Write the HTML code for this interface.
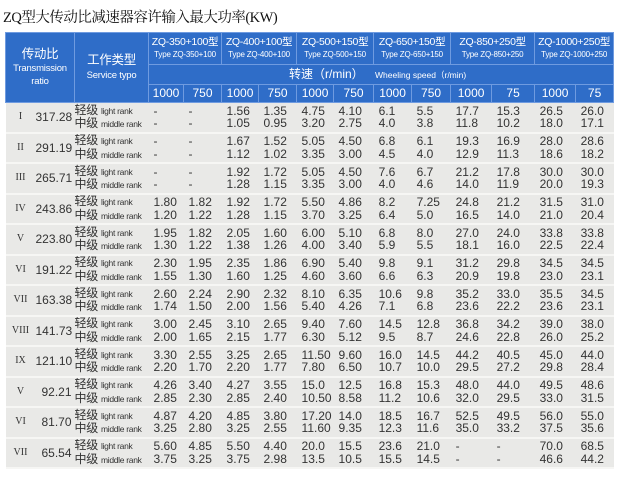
<!DOCTYPE html>
<html><head><meta charset="utf-8"><style>
body{margin:0;width:618px;height:477px;background:#fff;overflow:hidden;font-family:"Liberation Sans","Noto Sans CJK SC",sans-serif;}
.title{position:absolute;left:3px;top:6px;font-family:"Liberation Serif","Noto Serif CJK SC",serif;font-size:14.5px;color:#111;letter-spacing:-0.5px;white-space:nowrap}
table{position:absolute;left:5px;top:32px;border-collapse:collapse;table-layout:fixed;width:608px}
th{background:#2f6dc8;color:#fff;font-weight:normal;border:1px solid #6f9be0;padding:0;text-align:center;line-height:1.05;white-space:nowrap;overflow:hidden}
td{background:#e9e9e7;color:#333;padding:0;font-size:12px;line-height:12.5px;border-bottom:2px solid #f6f6f4;vertical-align:middle;white-space:nowrap;overflow:hidden}
.h1 th{height:31px;font-size:10.5px;letter-spacing:-0.3px}
.h1 th small{font-size:8px;letter-spacing:-0.2px}
.sp th{height:19px}
.nm th{height:17px;font-size:12px}
.r td{height:28.5px}
.rn{text-align:center;font-size:10px;font-family:"Liberation Serif",serif}
.rt{text-align:right;padding-right:3px;font-size:12px}
.sv{font-size:12px;letter-spacing:-0.3px}
.sv span{font-size:8.5px}
.n{padding-left:5px}
</style></head><body>
<div class="title">ZQ型大传动比减速器容许输入最大功率(KW)</div>
<table>
<colgroup><col style="width:30px"><col style="width:39px"><col style="width:74px">
<col style="width:35px"><col style="width:38px"><col style="width:37px"><col style="width:38px">
<col style="width:37px"><col style="width:40px"><col style="width:38px"><col style="width:39px">
<col style="width:41px"><col style="width:43px"><col style="width:41px"><col style="width:38px"></colgroup>
<tr class="h1"><th colspan="2" rowspan="3" style="font-size:12.5px;white-space:normal">传动比<br><small style="font-size:9.5px">Transmission<br>ratio</small></th>
<th rowspan="3" style="font-size:12.5px">工作类型<br><small style="font-size:9.5px">Service typo</small></th>
<th colspan="2">ZQ-350+100型<br><small>Type ZQ-350+100</small></th>
<th colspan="2">ZQ-400+100型<br><small>Type ZQ-400+100</small></th>
<th colspan="2">ZQ-500+150型<br><small>Type ZQ-500+150</small></th>
<th colspan="2">ZQ-650+150型<br><small>Type ZQ-650+150</small></th>
<th colspan="2">ZQ-850+250型<br><small>Type ZQ-850+250</small></th>
<th colspan="2">ZQ-1000+250型<br><small>Type ZQ-1000+250</small></th></tr>
<tr class="sp"><th colspan="12" style="font-size:12px;text-align:left;padding-left:140px">转速（r/min） <span style="font-size:8.5px;margin-left:8px">Wheeling speed（r/min)</span></th></tr>
<tr class="nm"><th>1000</th><th>750</th><th>1000</th><th>750</th><th>1000</th><th>750</th><th>1000</th><th>750</th><th>1000</th><th>75</th><th>1000</th><th>75</th></tr>
<tr class="r"><td class="rn">I</td><td class="rt">317.28</td><td class="sv">轻级 <span>light rank</span><br>中级 <span>middle rank</span></td><td class="n">-<br>-</td><td class="n">-<br>-</td><td class="n">1.56<br>1.05</td><td class="n">1.35<br>0.95</td><td class="n">4.75<br>3.20</td><td class="n">4.10<br>2.75</td><td class="n">6.1<br>4.0</td><td class="n">5.5<br>3.8</td><td class="n">17.7<br>11.8</td><td class="n">15.3<br>10.2</td><td class="n">26.5<br>18.0</td><td class="n">26.0<br>17.1</td></tr>
<tr class="r"><td class="rn">II</td><td class="rt">291.19</td><td class="sv">轻级 <span>light rank</span><br>中级 <span>middle rank</span></td><td class="n">-<br>-</td><td class="n">-<br>-</td><td class="n">1.67<br>1.12</td><td class="n">1.52<br>1.02</td><td class="n">5.05<br>3.35</td><td class="n">4.50<br>3.00</td><td class="n">6.8<br>4.5</td><td class="n">6.1<br>4.0</td><td class="n">19.3<br>12.9</td><td class="n">16.9<br>11.3</td><td class="n">28.0<br>18.6</td><td class="n">28.6<br>18.2</td></tr>
<tr class="r"><td class="rn">III</td><td class="rt">265.71</td><td class="sv">轻级 <span>light rank</span><br>中级 <span>middle rank</span></td><td class="n">-<br>-</td><td class="n">-<br>-</td><td class="n">1.92<br>1.28</td><td class="n">1.72<br>1.15</td><td class="n">5.05<br>3.35</td><td class="n">4.50<br>3.00</td><td class="n">7.6<br>4.0</td><td class="n">6.7<br>4.6</td><td class="n">21.2<br>14.0</td><td class="n">17.8<br>11.9</td><td class="n">30.0<br>20.0</td><td class="n">30.0<br>19.3</td></tr>
<tr class="r"><td class="rn">IV</td><td class="rt">243.86</td><td class="sv">轻级 <span>light rank</span><br>中级 <span>middle rank</span></td><td class="n">1.80<br>1.20</td><td class="n">1.82<br>1.22</td><td class="n">1.92<br>1.28</td><td class="n">1.72<br>1.15</td><td class="n">5.50<br>3.70</td><td class="n">4.86<br>3.25</td><td class="n">8.2<br>6.4</td><td class="n">7.25<br>5.0</td><td class="n">24.8<br>16.5</td><td class="n">21.2<br>14.0</td><td class="n">31.5<br>21.0</td><td class="n">31.0<br>20.4</td></tr>
<tr class="r"><td class="rn">V</td><td class="rt">223.80</td><td class="sv">轻级 <span>light rank</span><br>中级 <span>middle rank</span></td><td class="n">1.95<br>1.30</td><td class="n">1.82<br>1.22</td><td class="n">2.05<br>1.38</td><td class="n">1.60<br>1.26</td><td class="n">6.00<br>4.00</td><td class="n">5.10<br>3.40</td><td class="n">6.8<br>5.9</td><td class="n">8.0<br>5.5</td><td class="n">27.0<br>18.1</td><td class="n">24.0<br>16.0</td><td class="n">33.8<br>22.5</td><td class="n">33.8<br>22.4</td></tr>
<tr class="r"><td class="rn">VI</td><td class="rt">191.22</td><td class="sv">轻级 <span>light rank</span><br>中级 <span>middle rank</span></td><td class="n">2.30<br>1.55</td><td class="n">1.95<br>1.30</td><td class="n">2.35<br>1.60</td><td class="n">1.86<br>1.25</td><td class="n">6.90<br>4.60</td><td class="n">5.40<br>3.60</td><td class="n">9.8<br>6.6</td><td class="n">9.1<br>6.3</td><td class="n">31.2<br>20.9</td><td class="n">29.8<br>19.8</td><td class="n">34.5<br>23.0</td><td class="n">34.5<br>23.1</td></tr>
<tr class="r"><td class="rn">VII</td><td class="rt">163.38</td><td class="sv">轻级 <span>light rank</span><br>中级 <span>middle rank</span></td><td class="n">2.60<br>1.74</td><td class="n">2.24<br>1.50</td><td class="n">2.90<br>2.00</td><td class="n">2.32<br>1.56</td><td class="n">8.10<br>5.40</td><td class="n">6.35<br>4.26</td><td class="n">10.6<br>7.1</td><td class="n">9.8<br>6.8</td><td class="n">35.2<br>23.6</td><td class="n">33.0<br>22.2</td><td class="n">35.5<br>23.6</td><td class="n">34.5<br>23.1</td></tr>
<tr class="r"><td class="rn">VIII</td><td class="rt">141.73</td><td class="sv">轻级 <span>light rank</span><br>中级 <span>middle rank</span></td><td class="n">3.00<br>2.00</td><td class="n">2.45<br>1.65</td><td class="n">3.10<br>2.15</td><td class="n">2.65<br>1.77</td><td class="n">9.40<br>6.30</td><td class="n">7.60<br>5.12</td><td class="n">14.5<br>9.5</td><td class="n">12.8<br>8.7</td><td class="n">36.8<br>24.6</td><td class="n">34.2<br>22.8</td><td class="n">39.0<br>26.0</td><td class="n">38.0<br>25.2</td></tr>
<tr class="r"><td class="rn">IX</td><td class="rt">121.10</td><td class="sv">轻级 <span>light rank</span><br>中级 <span>middle rank</span></td><td class="n">3.30<br>2.20</td><td class="n">2.55<br>1.70</td><td class="n">3.25<br>2.20</td><td class="n">2.65<br>1.77</td><td class="n">11.50<br>7.80</td><td class="n">9.60<br>6.50</td><td class="n">16.0<br>10.7</td><td class="n">14.5<br>10.0</td><td class="n">44.2<br>29.5</td><td class="n">40.5<br>27.2</td><td class="n">45.0<br>29.8</td><td class="n">44.0<br>28.4</td></tr>
<tr class="r"><td class="rn">V</td><td class="rt">92.21</td><td class="sv">轻级 <span>light rank</span><br>中级 <span>middle rank</span></td><td class="n">4.26<br>2.85</td><td class="n">3.40<br>2.30</td><td class="n">4.27<br>2.85</td><td class="n">3.55<br>2.40</td><td class="n">15.0<br>10.50</td><td class="n">12.5<br>8.58</td><td class="n">16.8<br>11.2</td><td class="n">15.3<br>10.6</td><td class="n">48.0<br>32.0</td><td class="n">44.0<br>29.5</td><td class="n">49.5<br>33.0</td><td class="n">48.6<br>31.5</td></tr>
<tr class="r"><td class="rn">VI</td><td class="rt">81.70</td><td class="sv">轻级 <span>light rank</span><br>中级 <span>middle rank</span></td><td class="n">4.87<br>3.25</td><td class="n">4.20<br>2.80</td><td class="n">4.85<br>3.25</td><td class="n">3.80<br>2.55</td><td class="n">17.20<br>11.60</td><td class="n">14.0<br>9.35</td><td class="n">18.5<br>12.3</td><td class="n">16.7<br>11.6</td><td class="n">52.5<br>35.0</td><td class="n">49.5<br>33.2</td><td class="n">56.0<br>37.5</td><td class="n">55.0<br>35.6</td></tr>
<tr class="r"><td class="rn">VII</td><td class="rt">65.54</td><td class="sv">轻级 <span>light rank</span><br>中级 <span>middle rank</span></td><td class="n">5.60<br>3.75</td><td class="n">4.85<br>3.25</td><td class="n">5.50<br>3.75</td><td class="n">4.40<br>2.98</td><td class="n">20.0<br>13.5</td><td class="n">15.5<br>10.5</td><td class="n">23.6<br>15.5</td><td class="n">21.0<br>14.5</td><td class="n">-<br>-</td><td class="n">-<br>-</td><td class="n">70.0<br>46.6</td><td class="n">68.5<br>44.2</td></tr>
</table>
</body></html>
